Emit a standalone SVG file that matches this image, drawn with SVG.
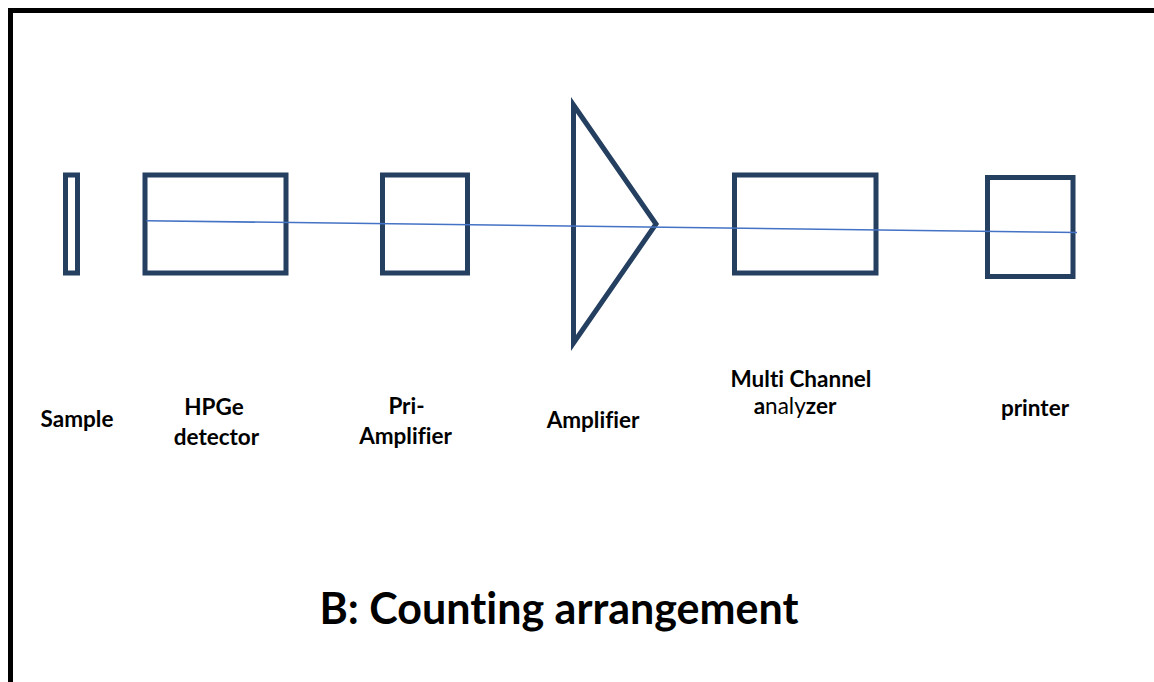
<svg xmlns="http://www.w3.org/2000/svg" width="1154" height="682" viewBox="0 0 1154 682">
<style>
.shape{fill:none;stroke:#243F60;stroke-width:5;stroke-linejoin:miter}
.lbl{font-family:Lato,"Open Sans","Liberation Sans",sans-serif;font-weight:bold;font-size:22.5px;fill:#000;text-anchor:middle;font-variant-ligatures:none}
.reg{font-weight:normal}
.title{font-family:Lato,"Open Sans","Liberation Sans",sans-serif;font-weight:bold;font-size:43px;fill:#000;text-anchor:middle;font-variant-ligatures:none}
.wire{fill:none;stroke:#4472C4;stroke-width:1.6}
</style>
<rect x="0" y="0" width="1154" height="682" fill="#fff"/>
<path d="M10.5 682 V10.5 H1154" fill="none" stroke="#000" stroke-width="5"/>
<g id="sample"><rect class="shape" x="65.5" y="175" width="12" height="98"/><text class="lbl" x="77" y="427">Sample</text></g>
<g id="hpge"><rect class="shape" x="145" y="175" width="141" height="98"/><text class="lbl" x="214" y="415">HPGe</text><text class="lbl" x="216.5" y="445">detector</text></g>
<g id="preamp"><rect class="shape" x="382.5" y="175" width="85" height="98"/><text class="lbl" x="406.5" y="414">Pri-</text><text class="lbl" x="405.5" y="444">Amplifier</text></g>
<g id="amplifier"><polygon class="shape" points="573.5,105 656,224 573.5,343"/><text class="lbl" x="593" y="428">Amplifier</text></g>
<g id="mca"><rect class="shape" x="734.5" y="175" width="141.5" height="98"/><text class="lbl" x="801" y="387">Multi Channel</text><text class="lbl" x="795" y="414">a<tspan class="reg">naly</tspan>zer</text></g>
<g id="printer"><rect class="shape" x="987.5" y="177.5" width="85.5" height="99"/><text class="lbl" x="1035" y="416">printer</text></g>
<g id="connectors"><line class="wire" x1="146.5" y1="220.7" x2="1077" y2="232.5"/></g>
<text class="title" x="559" y="624">B: Counting arrangement</text>
</svg>
